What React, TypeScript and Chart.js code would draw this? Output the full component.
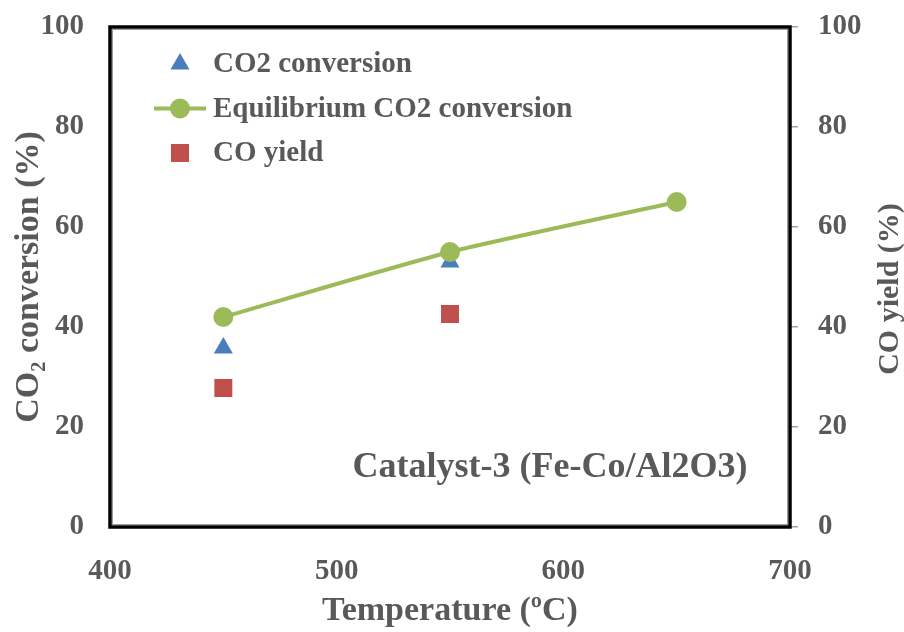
import React, { useEffect, useRef } from 'react';
import { Chart, registerables } from 'chart.js';

Chart.register(...registerables);

// ---- data ----
const temperatures = [450, 550, 650];
const co2Conversion = [35.8, 53.0];
const equilibriumConversion = [42.0, 55.0, 65.0];
const coYield = [27.8, 42.6];
const xTickValues = [400, 500, 600, 700];
const yTickValues = [0, 20, 40, 60, 80, 100];

const seriesLabels = ['CO2 conversion', 'Equilibrium CO2 conversion', 'CO yield'];
const annotationText = 'Catalyst-3 (Fe-Co/Al2O3)';
const leftTitle = 'CO\u2082 conversion (%)';
const rightTitle = 'CO yield (%)';
const bottomTitle = 'Temperature (\u00baC)';

const TEXT = '#595959';
const FONT = "'Liberation Serif', 'Times New Roman', serif";
const BLUE = '#4a7ebb';
const GREEN = '#9bbb59';
const RED = '#c0504d';

const overlayPlugin = {
  id: 'overlay',
  afterDraw(chart: any) {
    const { ctx, chartArea } = chart;
    const { left, right, top, bottom } = chartArea;
    ctx.save();
    // frame
    ctx.strokeStyle = '#000';
    ctx.lineWidth = 3.5;
    ctx.strokeRect(left, top, right - left, bottom - top);
    ctx.strokeStyle = '#9a9a9a';
    ctx.lineWidth = 1;
    ctx.strokeRect(left + 2.5, top + 2.5, right - left - 5, bottom - top - 5);

    // legend
    const ds = chart.data.datasets;
    const mx = left + 70;
    const tx = left + 103;
    const y0 = top + 37;
    const gap = 44.5;
    ctx.font = `bold 29px ${FONT}`;
    ctx.textBaseline = 'middle';
    ctx.textAlign = 'left';
    [0, 1, 2].forEach((i) => {
      const d = ds[i];
      const y = y0 + i * gap;
      ctx.fillStyle = d.backgroundColor;
      if (d.pointStyle === 'triangle') {
        const r = 11;
        ctx.beginPath();
        ctx.moveTo(mx, y - r);
        ctx.lineTo(mx + r * Math.sin((2 * Math.PI) / 3), y + r / 2);
        ctx.lineTo(mx - r * Math.sin((2 * Math.PI) / 3), y + r / 2);
        ctx.closePath();
        ctx.fill();
      } else if (d.pointStyle === 'circle') {
        ctx.strokeStyle = d.borderColor;
        ctx.lineWidth = 4;
        ctx.beginPath();
        ctx.moveTo(mx - 26, y);
        ctx.lineTo(mx + 26, y);
        ctx.stroke();
        ctx.beginPath();
        ctx.arc(mx, y, 10, 0, Math.PI * 2);
        ctx.fill();
      } else {
        ctx.fillRect(mx - 9, y - 9, 18, 18);
      }
      ctx.fillStyle = TEXT;
      ctx.fillText(d.label, tx, y + 1);
    });

    // annotation
    ctx.font = `bold 36px ${FONT}`;
    ctx.textAlign = 'center';
    ctx.fillStyle = TEXT;
    ctx.fillText(annotationText, left + 440, top + 441);

    // right axis title (reads bottom-to-top)
    ctx.translate(890, (top + bottom) / 2 + 12);
    ctx.rotate(-Math.PI / 2);
    ctx.font = `bold 30px ${FONT}`;
    ctx.textAlign = 'center';
    ctx.fillText(rightTitle, 0, 0);
    ctx.restore();
  },
};

export default function App() {
  const ref = useRef<HTMLCanvasElement | null>(null);

  useEffect(() => {
    if (!ref.current) return;
    const tickFont = { family: FONT, size: 29, weight: 'bold' as const };
    const chart = new Chart(ref.current, {
      type: 'scatter',
      data: {
        datasets: [
          {
            label: seriesLabels[0],
            data: co2Conversion.map((v, i) => ({ x: temperatures[i], y: v })),
            pointStyle: 'triangle',
            pointRadius: 11,
            backgroundColor: BLUE,
            borderColor: BLUE,
            borderWidth: 0,
            yAxisID: 'y',
            order: 1,
          },
          {
            label: seriesLabels[1],
            data: equilibriumConversion.map((v, i) => ({ x: temperatures[i], y: v })),
            showLine: true,
            tension: 0.2,
            pointStyle: 'circle',
            pointRadius: 10,
            backgroundColor: GREEN,
            borderColor: GREEN,
            pointBorderWidth: 0,
            borderWidth: 4,
            yAxisID: 'y',
            order: 0,
          },
          {
            label: seriesLabels[2],
            data: coYield.map((v, i) => ({ x: temperatures[i], y: v })),
            pointStyle: 'rect',
            pointRadius: 12.7,
            backgroundColor: RED,
            borderColor: RED,
            borderWidth: 0,
            yAxisID: 'y2',
            order: 2,
          },
        ],
      },
      options: {
        responsive: false,
        animation: false,
        devicePixelRatio: 1,
        layout: { padding: { top: 27, left: 0, right: 0, bottom: 0 } },
        plugins: { legend: { display: false }, tooltip: { enabled: false } },
        scales: {
          x: {
            type: 'linear',
            min: 400,
            max: 700,
            afterBuildTicks: (s: any) => {
              s.ticks = xTickValues.map((v) => ({ value: v }));
            },
            afterFit: (s: any) => {
              s.height = 105;
              s.paddingLeft = 0;
              s.paddingRight = 0;
            },
            grid: { display: false, drawTicks: false },
            border: { display: false },
            ticks: { font: tickFont, color: TEXT, padding: 27, maxRotation: 0 },
            title: {
              display: true,
              text: bottomTitle,
              font: { family: FONT, size: 34, weight: 'bold' },
              color: TEXT,
              padding: { top: 0, bottom: 0 },
            },
          },
          y: {
            type: 'linear',
            position: 'left',
            min: 0,
            max: 100,
            afterBuildTicks: (s: any) => {
              s.ticks = yTickValues.map((v) => ({ value: v }));
            },
            afterFit: (s: any) => {
              s.width = 110;
              s.paddingTop = 0;
              s.paddingBottom = 0;
            },
            grid: { display: false, drawTicks: false },
            border: { display: false },
            ticks: { font: tickFont, color: TEXT, padding: 26 },
            title: {
              display: true,
              text: leftTitle,
              font: { family: FONT, size: 34, weight: 'bold' },
              color: TEXT,
              padding: { top: 9, bottom: 0 },
            },
          },
          y2: {
            type: 'linear',
            position: 'right',
            min: 0,
            max: 100,
            afterBuildTicks: (s: any) => {
              s.ticks = yTickValues.map((v) => ({ value: v }));
            },
            afterFit: (s: any) => {
              s.width = 114;
              s.paddingTop = 0;
              s.paddingBottom = 0;
            },
            grid: {
              drawOnChartArea: false,
              drawTicks: true,
              tickLength: 8,
              color: '#a0a0a0',
              lineWidth: 1.5,
            },
            border: { display: false },
            ticks: { font: tickFont, color: TEXT, padding: 20 },
          },
        },
      },
      plugins: [overlayPlugin],
    });
    return () => chart.destroy();
  }, []);

  return (
    <div style={{ position: 'fixed', left: 0, top: 0, width: 904, height: 632, background: '#fff' }}>
      <canvas ref={ref} width={904} height={632} style={{ display: 'block' }} />
    </div>
  );
}
